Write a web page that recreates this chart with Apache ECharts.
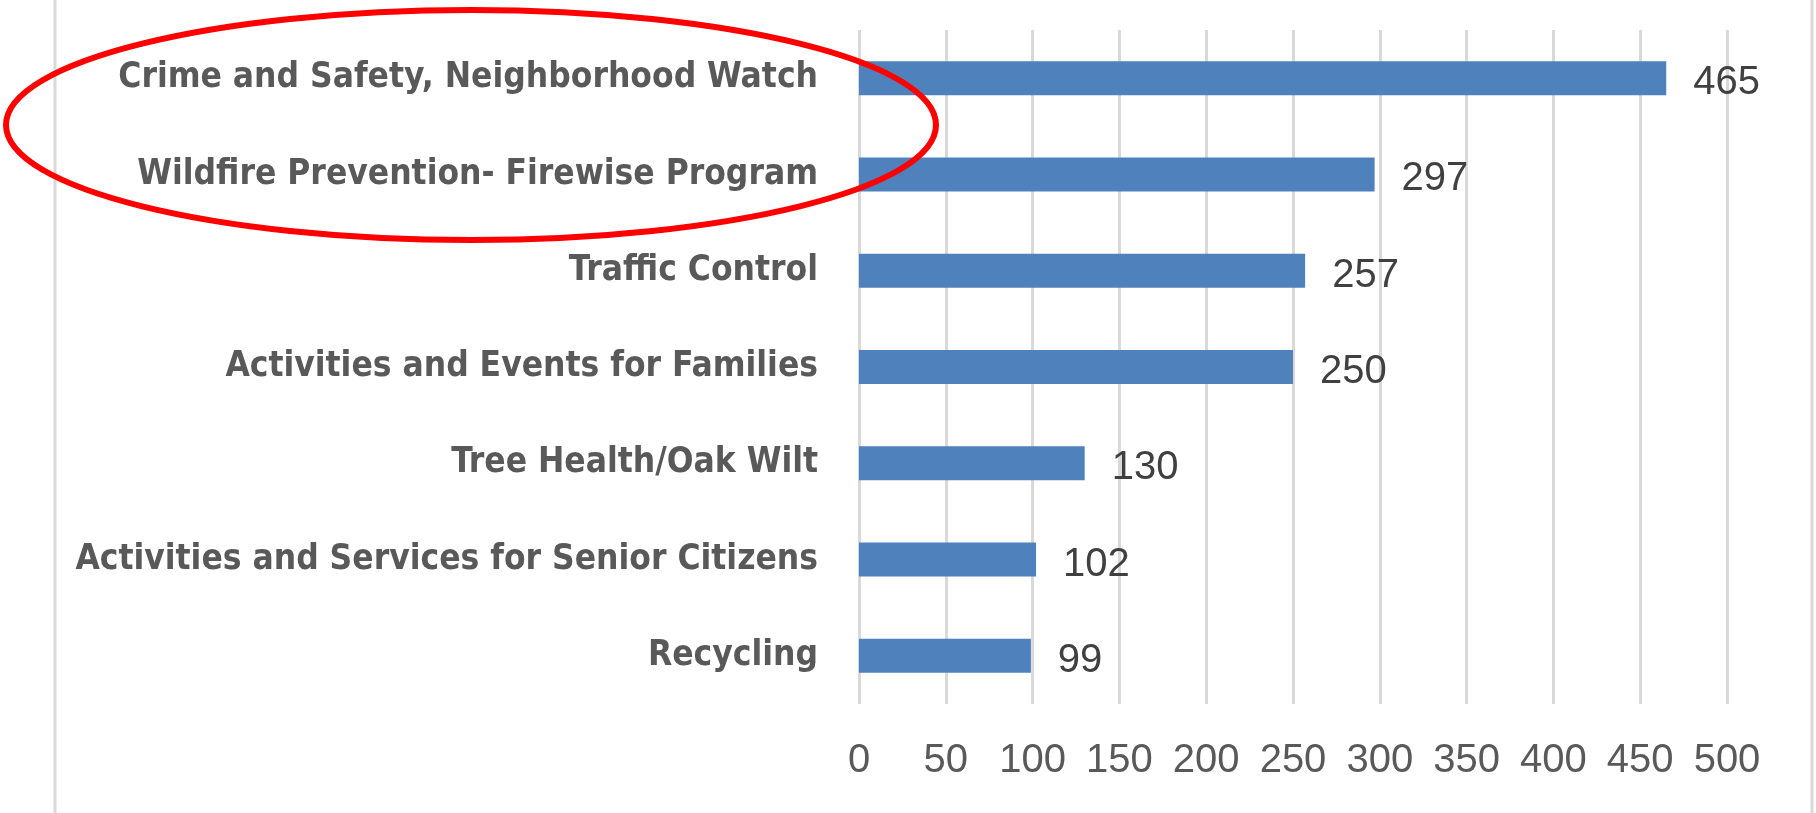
<!DOCTYPE html>
<html>
<head>
<meta charset="utf-8">
<style>
  html, body { margin: 0; padding: 0; background: #ffffff; }
  #chart { width: 1816px; height: 813px; }
</style>
<script src="https://cdn.jsdelivr.net/npm/echarts@6/dist/echarts.min.js"></script>
</head>
<body>
<div id="chart"></div>
<script>
const categories = [
  'Crime and Safety, Neighborhood Watch',
  'Wildfire Prevention- Firewise Program',
  'Traffic Control',
  'Activities and Events for Families',
  'Tree Health/Oak Wilt',
  'Activities and Services for Senior Citizens',
  'Recycling'
];
const values = [465, 297, 257, 250, 130, 102, 99];
const axisMin = 0;
const axisMax = 500;
const axisStep = 50;

const chart = echarts.init(document.getElementById('chart'), null, { renderer: 'canvas' });
chart.setOption({
  animation: false,
  backgroundColor: '#ffffff',
  grid: { left: 859, right: 89, top: 30, bottom: 109, containLabel: false, outerBoundsMode: 'none' },
  xAxis: {
    type: 'value',
    min: axisMin, max: axisMax, interval: axisStep,
    axisLine: { show: false },
    axisTick: { show: false },
    splitLine: { show: true, lineStyle: { color: '#D9D9D9', width: 3 } },
    axisLabel: {
      color: '#595959', fontSize: 40, margin: 37,
      fontFamily: "'Liberation Sans', Arial, sans-serif"
    }
  },
  yAxis: {
    type: 'category',
    data: categories,
    inverse: true,
    axisLine: { show: false },
    axisTick: { show: false },
    splitLine: { show: false },
    axisLabel: {
      color: '#595959', fontSize: 35, fontWeight: 'bold', margin: 41,
      fontFamily: "'DejaVu Sans Condensed', 'DejaVu Sans', sans-serif"
    }
  },
  series: [{
    type: 'bar',
    data: values,
    barWidth: 34,
    itemStyle: { color: '#4F81BD' },
    label: {
      show: true, position: 'right', distance: 27,
      color: '#404040', fontSize: 40, offset: [0, 5],
      fontFamily: "'Liberation Sans', Arial, sans-serif"
    }
  }],
  graphic: [
    { type: 'line', shape: { x1: 55, y1: 0, x2: 55, y2: 813 }, style: { stroke: '#D9D9D9', lineWidth: 3 }, z: 1 },
    { type: 'line', shape: { x1: 1812, y1: 0, x2: 1812, y2: 813 }, style: { stroke: '#D9D9D9', lineWidth: 3 }, z: 1 },
    { type: 'ellipse', shape: { cx: 471, cy: 125, rx: 465, ry: 115 }, style: { fill: 'none', stroke: '#FF0000', lineWidth: 6 }, z: 100 }
  ]
});
</script>
</body>
</html>
